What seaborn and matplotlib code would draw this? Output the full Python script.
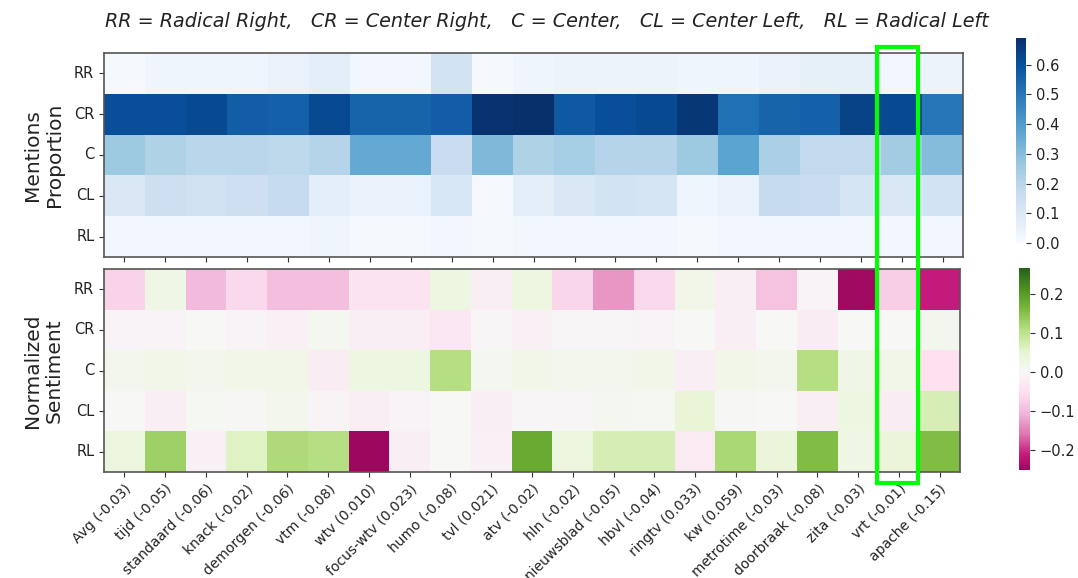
import matplotlib
matplotlib.use("Agg")
import matplotlib.pyplot as plt
import numpy as np
import pandas as pd
import seaborn as sns
from matplotlib.patches import Rectangle

outlets = ["Avg (-0.03)", "tijd (-0.05)", "standaard (-0.06)", "knack (-0.02)",
           "demorgen (-0.06)", "vtm (-0.08)", "wtv (0.010)", "focus-wtv (0.023)",
           "humo (-0.08)", "tvl (0.021)", "atv (-0.02)", "hln (-0.02)",
           "nieuwsblad (-0.05)", "hbvl (-0.04)", "ringtv (0.033)", "kw (0.059)",
           "metrotime (-0.03)", "doorbraak (-0.08)", "zita (-0.03)", "vrt (-0.01)",
           "apache (-0.15)"]
parties = ["RR", "CR", "C", "CL", "RL"]

# mentions proportion
prop_rr = [0.01, 0.03, 0.03, 0.03, 0.05, 0.07, 0.02, 0.02, 0.13, 0.01, 0.03,
           0.04, 0.04, 0.04, 0.03, 0.03, 0.05, 0.06, 0.06, 0.02, 0.04]
prop_cr = [0.61, 0.61, 0.62, 0.57, 0.56, 0.62, 0.55, 0.55, 0.57, 0.68, 0.69,
           0.58, 0.61, 0.62, 0.67, 0.52, 0.55, 0.56, 0.64, 0.62, 0.50]
prop_c = [0.26, 0.22, 0.20, 0.20, 0.19, 0.21, 0.36, 0.36, 0.16, 0.31, 0.22,
          0.24, 0.21, 0.21, 0.26, 0.38, 0.23, 0.18, 0.18, 0.25, 0.30]
prop_cl = [0.10, 0.15, 0.14, 0.15, 0.17, 0.07, 0.05, 0.05, 0.11, 0.01, 0.07,
           0.10, 0.13, 0.12, 0.03, 0.05, 0.17, 0.16, 0.12, 0.10, 0.13]
prop_rl = [0.02, 0.02, 0.02, 0.02, 0.02, 0.03, 0.01, 0.01, 0.02, 0.01, 0.02,
           0.02, 0.02, 0.02, 0.01, 0.02, 0.02, 0.02, 0.02, 0.02, 0.02]

# normalized sentiment
sent_rr = [-0.07, 0.025, -0.10, -0.06, -0.095, -0.095, -0.045, -0.045, 0.03, -0.02,
           0.03, -0.065, -0.13, -0.06, 0.02, -0.02, -0.09, -0.01, -0.245, -0.075, -0.21]
sent_cr = [-0.01, -0.01, 0.0, -0.01, -0.015, 0.01, -0.02, -0.02, -0.035, -0.005,
           -0.015, -0.005, -0.005, -0.01, 0.0, -0.02, 0.0, -0.025, 0.0, 0.0, 0.015]
sent_c = [0.015, 0.02, 0.012, 0.02, 0.02, -0.025, 0.03, 0.03, 0.11, 0.01,
          0.02, 0.015, 0.015, 0.02, -0.02, 0.02, 0.015, 0.11, 0.025, 0.02, -0.05]
sent_cl = [0.0, -0.02, 0.005, 0.003, 0.015, -0.008, -0.02, -0.01, 0.0, -0.02,
           -0.005, -0.005, 0.01, 0.005, 0.045, 0.003, 0.0, -0.02, 0.03, -0.025, 0.07]
sent_rl = [0.035, 0.13, -0.015, 0.06, 0.115, 0.11, -0.25, -0.02, 0.0, -0.015,
           0.18, 0.035, 0.07, 0.07, -0.03, 0.12, 0.04, 0.156, 0.025, 0.04, 0.155]

prop = pd.DataFrame([prop_rr, prop_cr, prop_c, prop_cl, prop_rl],
                    index=parties, columns=outlets)
sent = pd.DataFrame([sent_rr, sent_cr, sent_c, sent_cl, sent_rl],
                    index=parties, columns=outlets)

fig = plt.figure(figsize=(10.78, 5.78), dpi=100)
ax1 = fig.add_axes([0.0965, 0.5554, 0.797, 0.353])
ax2 = fig.add_axes([0.0965, 0.1834, 0.794, 0.351])
cax1 = fig.add_axes([0.9425, 0.5796, 0.0093, 0.3547])
cax2 = fig.add_axes([0.9453, 0.1869, 0.0102, 0.349])

sns.heatmap(prop, ax=ax1, cbar_ax=cax1, cmap="Blues", vmin=0.0, vmax=0.69,
            xticklabels=False)
sns.heatmap(sent, ax=ax2, cbar_ax=cax2, cmap="PiYG", vmin=-0.25, vmax=0.265,
            center=0)

for ax in (ax1, ax2):
    for s in ax.spines.values():
        s.set_visible(True)
        s.set_color("#555555")
        s.set_linewidth(1.2)
    ax.set_yticklabels(parties, rotation=0, fontsize=10.5)
    ax.tick_params(axis="both", colors="#333333", labelcolor="#222222")
ax1.set_xticks(np.arange(len(outlets)) + 0.5)
ax2.set_xticklabels(outlets, rotation=45, ha="right", rotation_mode="anchor",
                    fontsize=10)

ax1.set_ylabel("Mentions\nProportion", fontsize=14.5, color="#222222")
ax2.set_ylabel("Normalized\nSentiment", fontsize=14.5, color="#222222")
ax1.yaxis.set_label_coords(-0.047, 0.5)
ax2.yaxis.set_label_coords(-0.047, 0.5)

for cax in (cax1, cax2):
    cax.tick_params(labelsize=10.5, colors="#333333", labelcolor="#222222")

fig.text(0.507, 0.962,
         "RR = Radical Right,   CR = Center Right,   C = Center,   "
         "CL = Center Left,   RL = Radical Left",
         ha="center", va="center", fontsize=13.8, style="italic", color="#222222")

# highlight box around the vrt column, spanning both panels
idx = outlets.index("vrt (-0.01)")
x0 = ax1.transData.transform((idx - 0.1, 0))[0]
x1 = ax1.transData.transform((idx + 0.9, 0))[0]
w, h = fig.bbox.width, fig.bbox.height
rect = Rectangle((x0 / w, 1 - 483 / 578), (x1 - x0) / w, (483 - 47) / 578,
                 transform=fig.transFigure, fill=False, edgecolor="#00ff00",
                 linewidth=3, zorder=10)
fig.patches.append(rect)

fig.savefig("out.png", dpi=100)
